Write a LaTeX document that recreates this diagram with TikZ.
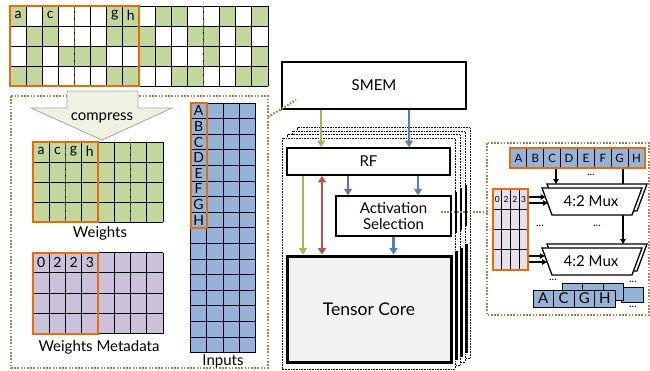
\documentclass[tikz,border=0pt]{standalone}
\usepackage{fontspec}
\setmainfont{Lato}
\usetikzlibrary{arrows.meta}
\definecolor{wgreen}{HTML}{C3D69B}
\definecolor{mpurple}{HTML}{CCC1DA}
\definecolor{iblue}{HTML}{95B3D7}
\definecolor{orng}{HTML}{E46C0A}
\definecolor{olivec}{HTML}{948A54}
\definecolor{dkgreen}{HTML}{4F6228}
\definecolor{garrow}{HTML}{9BBB59}
\definecolor{rarrow}{HTML}{C0504D}
\definecolor{parrow}{HTML}{8064A2}
\definecolor{barrow}{HTML}{4F81BD}
\definecolor{lavlight}{HTML}{E6E0EC}
\definecolor{compfill}{HTML}{EEF2E3}
\definecolor{tcfill}{HTML}{F2F2F2}
\tikzset{
  gl/.style={draw=black,line width=0.8pt},
  orbox/.style={draw=orng,line width=2pt},
  wdash/.style={draw=dkgreen,line width=1.8pt,dash pattern=on 4.5pt off 2.5pt},
  olivedot/.style={draw=olivec,line width=2.2pt,dash pattern=on 1.6pt off 1.6pt},
  stackbox/.style={draw=black,fill=white,line width=0.7pt,dash pattern=on 0.8pt off 0.8pt},
  celltxt/.style={inner sep=0pt,font=\fontsize{14}{15}\selectfont},
  smalltxt/.style={inner sep=0pt,font=\fontsize{11.5}{12}\selectfont},
  tinytxt/.style={inner sep=0pt,font=\fontsize{8.5}{9}\selectfont},
  lbl/.style={inner sep=0pt,font=\fontsize{15}{17}\selectfont},
  carr/.style={line width=2.8pt,-{Triangle[width=8pt,length=6.5pt]}},
  carrb/.style={line width=2.8pt,{Triangle[width=8pt,length=6.5pt]}-{Triangle[width=8pt,length=6.5pt]}},
  karr/.style={line width=1.2pt,-{Triangle[width=5.5pt,length=5pt]}},
  muxline/.style={draw=black,line width=1.3pt,fill=white},
  dots/.style={inner sep=0pt,font=\fontsize{11}{12}\selectfont}
}
\newcommand\mygrid[6]{%
  \foreach \gi in {0,...,#5}{\draw[gl] ({#1+\gi*#3},#2) -- ({#1+\gi*#3},{#2+#6*#4});}
  \foreach \gj in {0,...,#6}{\draw[gl] (#1,{#2+\gj*#4}) -- ({#1+#5*#3},{#2+\gj*#4});}
}
% mux outline: #1 = x of top-left, #2 = y of top
\newcommand\muxpath[2]{\path[muxline] (#1,#2) -- ++(100,0) -- ++(-10,27) -- ++(-80,0) -- cycle;}
\begin{document}
\begin{tikzpicture}[x=1pt,y=-1pt,font=\fontsize{15}{17}\selectfont]
\useasboundingbox (0,0) rectangle (650,370);

% ---------- top sparse weights ----------
\foreach \c/\r in {0/0,2/0,6/0,7/0,9/0,10/0,13/0,15/0,
                   1/1,2/1,6/1,7/1,8/1,11/1,12/1,14/1,
                   1/2,3/2,4/2,5/2,8/2,9/2,12/2,15/2,
                   0/3,1/3,6/3,7/3,10/3,11/3,14/3,15/3}
  {\fill[wgreen] ({10+\c*16.125},{6+\r*20}) rectangle ++(16.125,20);}
\mygrid{10}{6}{16.125}{20}{16}{4}
\draw[wdash] (74.5,6) -- (74.5,86);
\draw[wdash] (203.5,6) -- (203.5,86);
\draw[orbox] (10,6) rectangle (139,86);
\node[celltxt] (ta) at (18.1,15) {a};
\node[celltxt] (tc) at (50.3,15) {c};
\node[celltxt] (tg) at (114.8,15) {g};
\node[celltxt] (th) at (130.9,15) {h};

% ---------- left dotted frame ----------
\draw[olivedot] (11,96) rectangle (268,368);

% compress arrow
\draw[draw=black!35,fill=compfill,line width=0.8pt]
  (67,91) -- (138,91) -- (138,108) -- (172,108) -- (102,140) -- (31,108) -- (67,108) -- cycle;
\node[lbl] (cmp) at (102,118) {compress};

% compressed weights
\fill[wgreen] (33,142) rectangle (163,222);
\mygrid{33}{142}{16.25}{20}{8}{4}
\draw[wdash] (65.5,142) -- (65.5,222);
\draw[wdash] (130.5,142) -- (130.5,222);
\draw[orbox] (33,142) rectangle (98,222);
\node[celltxt] (ca) at (41.1,151) {a};
\node[celltxt] (cc) at (57.4,151) {c};
\node[celltxt] (cg) at (73.6,151) {g};
\node[celltxt] (ch) at (89.9,151) {h};
\node[lbl] (wlab) at (100,233) {Weights};

% metadata
\fill[mpurple] (33,252.5) rectangle (163,333.5);
\mygrid{33}{252.5}{16.25}{20.25}{8}{4}
\draw[orbox] (33,252.5) rectangle (98,333.5);
\node[celltxt] (m0) at (41.1,262.5) {0};
\node[celltxt] (m1) at (57.4,262.5) {2};
\node[celltxt] (m2) at (73.6,262.5) {2};
\node[celltxt] (m3) at (89.9,262.5) {3};
\node[lbl] (mlab) at (99,347) {Weights Metadata};

% inputs
\fill[iblue] (190.5,103) rectangle (255.5,352.6);
\mygrid{190.5}{103}{16.25}{15.6}{4}{16}
\draw[orbox] (190.5,103) rectangle (206.75,227.8);
\foreach \L [count=\j from 0] in {A,B,C,D,E,F,G,H}
  {\node[celltxt] (in\L) at (198.6,{110.8+\j*15.6}) {\L};}
\node[lbl] (ilab) at (223,361) {Inputs};

% ---------- middle stack ----------
\foreach \k in {3,2,1}{
  \begin{scope}[shift={(5*\k,-3.5*\k)}]
    \draw[stackbox] (282,138) rectangle (455,369);
    \draw[line width=1.5pt,fill=white] (336,196) rectangle (451,236);
    \draw[line width=3pt,fill=white] (287,256) rectangle (451,362);
  \end{scope}}
\draw[stackbox] (282,138) rectangle (455,369);

\node[draw,line width=1.8pt,fill=white,minimum width=163pt,minimum height=27pt,inner sep=0pt,lbl] (rf) at (368.5,161.5) {RF};
\node[draw,line width=1.5pt,fill=white,minimum width=115pt,minimum height=40pt,inner sep=0pt,align=center,lbl] (act) at (393.5,216) {Activation\\[-1pt]Selection};
\node[draw,line width=3pt,fill=tcfill,minimum width=164pt,minimum height=106pt,inner sep=0pt,font=\fontsize{17.5}{19}\selectfont] (tcore) at (369,309) {Tensor Core};

\node[draw,line width=1.3pt,fill=white,minimum width=184pt,minimum height=47pt,inner sep=0pt,lbl] (smem) at (374,85.5) {SMEM};

% callouts
\draw[olivedot] (268,117) -- (296,100);
\draw[olivedot] (441,212) -- (487,212);

% arrows
\draw[carr,garrow] (321,0 |- smem.south) -- (321,0 |- rf.north);
\draw[carr,barrow] (409,0 |- smem.south) -- (409,0 |- rf.north);
\draw[carr,garrow] (303,0 |- rf.south) -- (303,0 |- tcore.north);
\draw[carrb,rarrow] (322,0 |- rf.south) -- (322,0 |- tcore.north);
\draw[carr,parrow] (348,0 |- rf.south) -- (348,0 |- act.north);
\draw[carr,barrow] (418,0 |- rf.south) -- (418,0 |- act.north);
\draw[carr,barrow] (393.5,0 |- act.south) -- (393.5,0 |- tcore.north);

% ---------- right detail ----------
\draw[olivedot] (487,143) rectangle (649,315);

% input row
\fill[iblue] (510,148) rectangle (645,168);
\foreach \i in {1,...,7}{\draw[gl] ({510+\i*16.875},148) -- ({510+\i*16.875},168);}
\draw[orbox] (510,148) rectangle (645,168);
\foreach \L [count=\j from 0] in {A,B,C,D,E,F,G,H}
  {\node[smalltxt] (r\L) at ({518.4+\j*16.875},158) {\L};}

% muxes (back copies, G line behind first mux, front copies)
\coordinate (m2top) at (623,244);
\coordinate (m1top) at (556,184);
\coordinate (gsrc) at (623,169);
\coordinate (csrc) at (556,169);
\muxpath{547}{244}
\draw[karr] (gsrc) -- (m2top);
\muxpath{547}{184}
\draw[karr] (csrc) -- (m1top);
\muxpath{542}{188}
\muxpath{542}{248}
\node[lbl] (mux1) at (591,201.5) {4:2 Mux};
\node[lbl] (mux2) at (591,261.5) {4:2 Mux};
\node[dots] (d1) at (591,175) {...};
\node[dots] (d2) at (540,226) {...};
\node[dots] (d3) at (597,226) {...};

% metadata small
\fill[lavlight] (493,189) rectangle (528,270);
\mygrid{493}{189}{8.75}{20.25}{4}{4}
\draw[orbox] (493,189) rectangle (528,270);
\node[tinytxt] (s0) at (497.4,199.5) {0};
\node[tinytxt] (s1) at (506.1,199.5) {2};
\node[tinytxt] (s2) at (514.9,199.5) {2};
\node[tinytxt] (s3) at (523.6,199.5) {3};
\coordinate (mA) at (529,197);
\coordinate (mB) at (529,203);
\coordinate (mC) at (529,256);
\coordinate (mD) at (529,262);
\coordinate (eA) at (545.5,197);
\coordinate (eB) at (547.8,203);
\coordinate (eC) at (544.8,256);
\coordinate (eD) at (547,262);
\draw[karr] (mA) -- (eA);
\draw[karr] (mB) -- (eB);
\draw[karr] (mC) -- (eC);
\draw[karr] (mD) -- (eD);

% output stack
\fill[iblue,draw=black,line width=0.7pt] (621,287) rectangle (643,302);
\fill[iblue,draw=black,line width=0.7pt] (562,283) rectangle (623,300);
\draw[gl] (582.5,283) -- (582.5,300);
\draw[gl] (603,283) -- (603,300);
\fill[iblue] (533,290) rectangle (615,307);
\foreach \i in {1,2,3}{\draw[gl] ({533+\i*20.5},290) -- ({533+\i*20.5},307);}
\draw[line width=0.8pt] (533,290) rectangle (615,307);
\foreach \L [count=\j from 0] in {A,C,G,H}
  {\node[lbl] (o\L) at ({543.25+\j*20.5},298.5) {\L};}
\node[dots] (d4) at (553,280) {...};
\node[dots] (d5) at (633,282) {...};
\node[dots] (d6) at (633,307) {...};
\end{tikzpicture}
\end{document}
